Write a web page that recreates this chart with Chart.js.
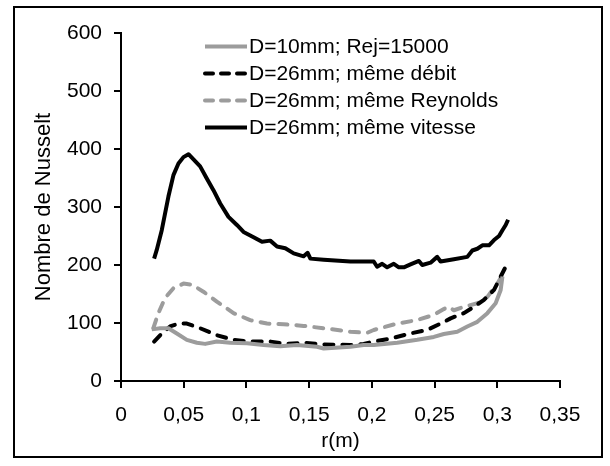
<!DOCTYPE html>
<html>
<head>
<meta charset="utf-8">
<script src="https://cdn.jsdelivr.net/npm/chart.js@4"></script>
<style>
    html, body { margin: 0; padding: 0; background: #ffffff; }
    #wrap { width: 610px; height: 466px; }
</style>
</head>
<body>
<div id="wrap"><canvas id="nusseltChart" width="610" height="466"></canvas></div>
<script>
// D=10mm; Rej=15000
const r10 = [0.0245, 0.0312, 0.0378, 0.0445, 0.0525, 0.0605, 0.0671, 0.0764, 0.0871, 0.1004, 0.1137, 0.127, 0.1403, 0.1563, 0.1616, 0.1829, 0.1935, 0.2015, 0.2202, 0.2362, 0.2494, 0.2574, 0.2681, 0.2761, 0.2841, 0.2921, 0.2987, 0.3027, 0.3041];
const nu10 = [89, 91, 91, 82, 71, 66, 64, 68, 66, 65, 62, 60, 62, 59, 56, 59, 62, 62, 66, 71, 76, 81, 85, 94, 102, 117, 134, 157, 180];

// D=26mm; même débit
const rDebit = [0.0264, 0.0325, 0.0391, 0.0458, 0.0525, 0.0631, 0.0764, 0.0897, 0.103, 0.119, 0.1323, 0.1456, 0.1616, 0.1829, 0.1935, 0.2015, 0.2148, 0.2308, 0.2441, 0.2548, 0.2628, 0.2734, 0.2814, 0.2894, 0.2974, 0.3027, 0.3081];
const nuDebit = [68, 82, 94, 99, 99, 91, 79, 71, 68, 68, 64, 66, 63, 62, 64, 68, 73, 82, 88, 99, 108, 117, 128, 140, 157, 180, 203];

// D=26mm; même Reynolds
const rReynolds = [0.0258, 0.0298, 0.0351, 0.0418, 0.0498, 0.0565, 0.0657, 0.0764, 0.0897, 0.103, 0.1164, 0.1296, 0.1456, 0.1616, 0.1829, 0.1962, 0.2015, 0.2202, 0.2362, 0.2494, 0.2574, 0.2614, 0.2654, 0.2734, 0.2841, 0.2921, 0.3001, 0.3041, 0.3054];
const nuReynolds = [91, 117, 143, 160, 168, 166, 154, 137, 117, 105, 99, 98, 95, 91, 85, 83, 88, 99, 105, 114, 124, 128, 122, 128, 134, 145, 168, 183, 186];

// D=26mm; même vitesse
const rVitesse = [0.0264, 0.0285, 0.0325, 0.0378, 0.0418, 0.0458, 0.0498, 0.0538, 0.0578, 0.0631, 0.0684, 0.0737, 0.0791, 0.0857, 0.0924, 0.0977, 0.1057, 0.1124, 0.119, 0.1244, 0.131, 0.1377, 0.1456, 0.1488, 0.151, 0.1616, 0.1829, 0.2015, 0.2042, 0.2082, 0.2122, 0.2175, 0.2215, 0.2255, 0.2308, 0.2375, 0.2402, 0.2468, 0.2521, 0.2548, 0.2654, 0.2761, 0.2801, 0.2841, 0.2881, 0.2934, 0.2974, 0.3014, 0.3041, 0.3067, 0.3086];
const nuVitesse = [211, 226, 260, 318, 355, 375, 386, 391, 382, 370, 349, 329, 306, 283, 269, 257, 248, 240, 242, 232, 229, 220, 215, 221, 211, 209, 206, 206, 197, 202, 196, 202, 196, 196, 201, 207, 200, 204, 214, 206, 210, 214, 225, 228, 234, 234, 243, 250, 260, 269, 278];

const seriesLabels = ["D=10mm; Rej=15000", "D=26mm; même débit", "D=26mm; même Reynolds", "D=26mm; même vitesse"];
const xTicks = [0, 0.05, 0.1, 0.15, 0.2, 0.25, 0.3, 0.35];
const yTicks = [0, 100, 200, 300, 400, 500, 600];

function toPoints(xs, ys) {
    return xs.map(function(x, i) { return { x: x, y: ys[i] }; });
}

const grey = "#9c9c9c";
const fontFamily = "'Liberation Sans', Arial, sans-serif";

// frame around the whole picture + legend inside the plot
const framePlugin = {
    id: "frame",
    beforeDraw: function(chart) {
        const c = chart.ctx;
        c.save();
        c.fillStyle = "#ffffff";
        c.fillRect(0, 0, chart.width, chart.height);
        c.strokeStyle = "#000000";
        c.lineWidth = 2;
        c.strokeRect(14, 7, 588, 450);
        c.restore();
    },
    afterDraw: function(chart) {
        const c = chart.ctx;
        c.save();
        c.font = "21px " + fontFamily;
        c.textBaseline = "middle";
        c.textAlign = "left";
        chart.data.datasets.forEach(function(ds, i) {
            const y = 46.5 + i * 27;
            c.beginPath();
            c.strokeStyle = ds.borderColor;
            c.lineWidth = 4;
            c.lineCap = ds.borderDash.length ? "round" : "butt";
            c.setLineDash(ds.borderDash.length ? [8, 8] : []);
            c.moveTo(205, y);
            c.lineTo(247, y);
            c.stroke();
            c.setLineDash([]);
            c.fillStyle = "#000000";
            c.fillText(ds.label, 249, y + 1);
        });
        c.restore();
    }
};

document.addEventListener("DOMContentLoaded", function() {
    const ctx = document.getElementById('nusseltChart').getContext('2d');

    const series = [
        { x: r10, y: nu10, color: grey, dash: [] },
        { x: rDebit, y: nuDebit, color: "#000000", dash: [9, 9] },
        { x: rReynolds, y: nuReynolds, color: grey, dash: [9, 9] },
        { x: rVitesse, y: nuVitesse, color: "#000000", dash: [] }
    ];

    const datasets = series.map(function(s, i) {
        return {
            label: seriesLabels[i],
            data: toPoints(s.x, s.y),
            showLine: true,
            borderColor: s.color,
            backgroundColor: s.color,
            borderWidth: 4,
            borderDash: s.dash,
            borderCapStyle: s.dash.length ? "round" : "butt",
            borderJoinStyle: "round",
            pointRadius: 0,
            tension: 0
        };
    });

    new Chart(ctx, {
        type: "scatter",
        data: { datasets: datasets },
        options: {
            responsive: false,
            animation: false,
            layout: { padding: { left: 0, top: 33, right: 50, bottom: 0 } },
            scales: {
                x: {
                    type: "linear",
                    min: 0,
                    max: 0.35,
                    afterBuildTicks: function(scale) {
                        scale.ticks = xTicks.map(function(v) { return { value: v }; });
                    },
                    afterFit: function(scale) { scale.height = 85; },
                    grid: { drawOnChartArea: false, drawTicks: true, tickLength: 7, color: "#000000", lineWidth: 2 },
                    border: { color: "#000000", width: 2 },
                    ticks: {
                        color: "#000000",
                        padding: 15,
                        maxRotation: 0,
                        autoSkip: false,
                        font: { family: fontFamily, size: 21 },
                        callback: function(value) { return String(Math.round(value * 100) / 100).replace(".", ","); }
                    },
                    title: {
                        display: true,
                        text: "r(m)",
                        color: "#000000",
                        padding: { top: 0, bottom: 12 },
                        font: { family: fontFamily, size: 21 }
                    }
                },
                y: {
                    min: 0,
                    max: 600,
                    afterBuildTicks: function(scale) {
                        scale.ticks = yTicks.map(function(v) { return { value: v }; });
                    },
                    afterFit: function(scale) { scale.width = 121; },
                    grid: { drawOnChartArea: false, drawTicks: true, tickLength: 7, color: "#000000", lineWidth: 2 },
                    border: { color: "#000000", width: 2 },
                    ticks: {
                        color: "#000000",
                        padding: 12,
                        font: { family: fontFamily, size: 21 }
                    },
                    title: {
                        display: true,
                        text: "Nombre de Nusselt",
                        color: "#000000",
                        padding: { top: 31, bottom: 0 },
                        font: { family: fontFamily, size: 22 }
                    }
                }
            },
            plugins: {
                legend: { display: false },
                tooltip: { enabled: false }
            }
        },
        plugins: [framePlugin]
    });
});
</script>
</body>
</html>
